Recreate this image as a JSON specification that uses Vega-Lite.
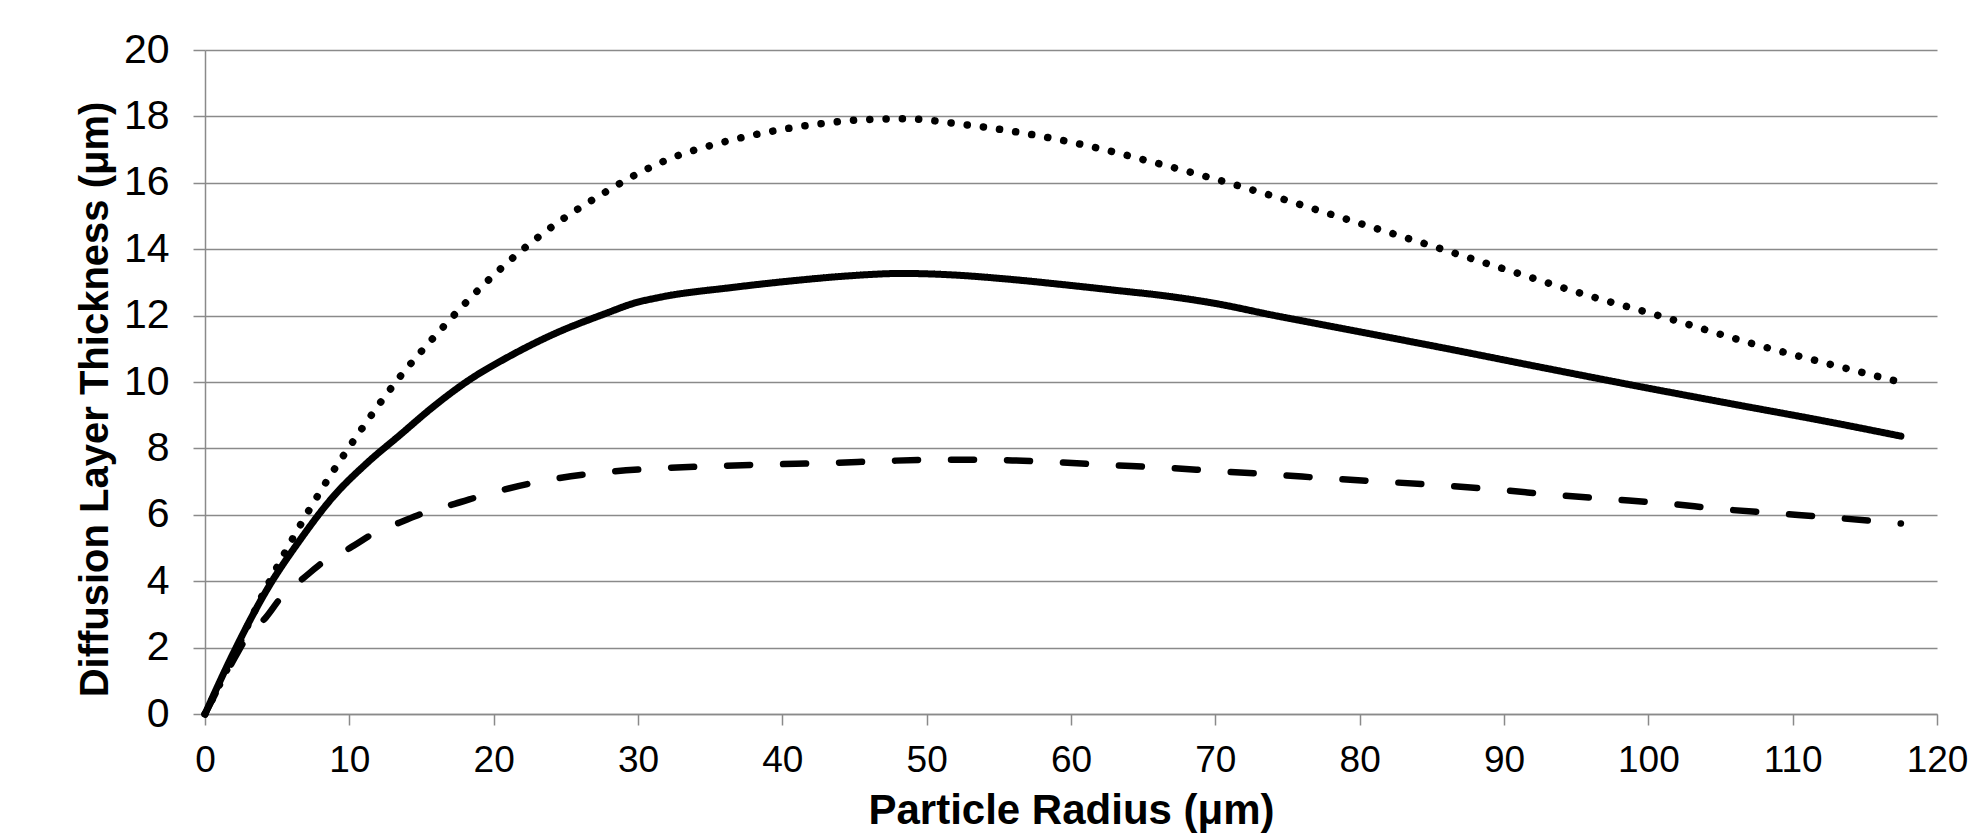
{
  "$schema": "https://vega.github.io/schema/vega-lite/v6.json",
  "width": 1732,
  "height": 664,
  "autosize": {"type": "none"},
  "padding": {"left": 205, "top": 50, "right": 45, "bottom": 121},
  "background": "white",
  "config": {
    "view": {"stroke": null},
    "font": "Liberation Sans"
  },
  "data": {
    "values": [
      {"series": "dotted", "r": 0, "t": 0},
      {"series": "dotted", "r": 1.73, "t": 1.53},
      {"series": "dotted", "r": 3.81, "t": 3.43},
      {"series": "dotted", "r": 5.89, "t": 5.14},
      {"series": "dotted", "r": 8.2, "t": 6.85},
      {"series": "dotted", "r": 10.67, "t": 8.47},
      {"series": "dotted", "r": 13.33, "t": 10.06},
      {"series": "dotted", "r": 16.28, "t": 11.55},
      {"series": "dotted", "r": 19.4, "t": 12.97},
      {"series": "dotted", "r": 21.9, "t": 13.95},
      {"series": "dotted", "r": 24.6, "t": 14.85},
      {"series": "dotted", "r": 27.4, "t": 15.63},
      {"series": "dotted", "r": 30.0, "t": 16.28},
      {"series": "dotted", "r": 32.4, "t": 16.76},
      {"series": "dotted", "r": 35.6, "t": 17.19},
      {"series": "dotted", "r": 38.9, "t": 17.52},
      {"series": "dotted", "r": 42.3, "t": 17.76},
      {"series": "dotted", "r": 45.6, "t": 17.9},
      {"series": "dotted", "r": 48.5, "t": 17.93},
      {"series": "dotted", "r": 52.3, "t": 17.77},
      {"series": "dotted", "r": 56.8, "t": 17.49},
      {"series": "dotted", "r": 61.3, "t": 17.1},
      {"series": "dotted", "r": 65.6, "t": 16.63},
      {"series": "dotted", "r": 70.0, "t": 16.11},
      {"series": "dotted", "r": 74.3, "t": 15.56},
      {"series": "dotted", "r": 78.6, "t": 14.97},
      {"series": "dotted", "r": 85.0, "t": 14.1},
      {"series": "dotted", "r": 90.4, "t": 13.35},
      {"series": "dotted", "r": 95.8, "t": 12.61},
      {"series": "dotted", "r": 101.2, "t": 11.94},
      {"series": "dotted", "r": 106.6, "t": 11.23},
      {"series": "dotted", "r": 112.1, "t": 10.59},
      {"series": "dotted", "r": 117.5, "t": 9.99},
      {"series": "solid", "r": 0, "t": 0},
      {"series": "solid", "r": 1.96, "t": 1.83},
      {"series": "solid", "r": 4.27, "t": 3.73},
      {"series": "solid", "r": 6.58, "t": 5.24},
      {"series": "solid", "r": 8.89, "t": 6.55},
      {"series": "solid", "r": 11.2, "t": 7.55},
      {"series": "solid", "r": 13.5, "t": 8.4},
      {"series": "solid", "r": 15.8, "t": 9.25},
      {"series": "solid", "r": 18.2, "t": 10.03},
      {"series": "solid", "r": 21.2, "t": 10.8},
      {"series": "solid", "r": 24.2, "t": 11.45},
      {"series": "solid", "r": 27.8, "t": 12.07},
      {"series": "solid", "r": 29.7, "t": 12.37},
      {"series": "solid", "r": 31.5, "t": 12.55},
      {"series": "solid", "r": 36.6, "t": 12.85},
      {"series": "solid", "r": 41.2, "t": 13.07},
      {"series": "solid", "r": 44.7, "t": 13.2},
      {"series": "solid", "r": 48.3, "t": 13.27},
      {"series": "solid", "r": 52.0, "t": 13.22},
      {"series": "solid", "r": 55.6, "t": 13.1},
      {"series": "solid", "r": 59.3, "t": 12.94},
      {"series": "solid", "r": 62.9, "t": 12.77},
      {"series": "solid", "r": 66.6, "t": 12.59},
      {"series": "solid", "r": 70.2, "t": 12.35},
      {"series": "solid", "r": 73.9, "t": 12.02},
      {"series": "solid", "r": 77.5, "t": 11.72},
      {"series": "solid", "r": 79.3, "t": 11.57},
      {"series": "solid", "r": 86.0, "t": 11.01},
      {"series": "solid", "r": 92.6, "t": 10.44},
      {"series": "solid", "r": 99.2, "t": 9.88},
      {"series": "solid", "r": 105.8, "t": 9.34},
      {"series": "solid", "r": 112.5, "t": 8.8},
      {"series": "solid", "r": 117.5, "t": 8.37},
      {"series": "dashed", "r": 0, "t": 0},
      {"series": "dashed", "r": 1.73, "t": 1.43},
      {"series": "dashed", "r": 3.12, "t": 2.45},
      {"series": "dashed", "r": 4.2, "t": 2.9},
      {"series": "dashed", "r": 5.43, "t": 3.6},
      {"series": "dashed", "r": 6.81, "t": 4.09},
      {"series": "dashed", "r": 8.4, "t": 4.64},
      {"series": "dashed", "r": 10.0, "t": 4.99},
      {"series": "dashed", "r": 11.9, "t": 5.49},
      {"series": "dashed", "r": 13.5, "t": 5.77},
      {"series": "dashed", "r": 15.4, "t": 6.09},
      {"series": "dashed", "r": 17.3, "t": 6.33},
      {"series": "dashed", "r": 20.0, "t": 6.68},
      {"series": "dashed", "r": 23.8, "t": 7.05},
      {"series": "dashed", "r": 27.6, "t": 7.28},
      {"series": "dashed", "r": 31.5, "t": 7.4},
      {"series": "dashed", "r": 35.5, "t": 7.47},
      {"series": "dashed", "r": 39.3, "t": 7.52},
      {"series": "dashed", "r": 43.2, "t": 7.56},
      {"series": "dashed", "r": 47.0, "t": 7.62},
      {"series": "dashed", "r": 50.9, "t": 7.66},
      {"series": "dashed", "r": 54.8, "t": 7.65},
      {"series": "dashed", "r": 58.7, "t": 7.59},
      {"series": "dashed", "r": 62.6, "t": 7.5},
      {"series": "dashed", "r": 66.4, "t": 7.42},
      {"series": "dashed", "r": 70.3, "t": 7.31},
      {"series": "dashed", "r": 74.1, "t": 7.21},
      {"series": "dashed", "r": 78.0, "t": 7.09},
      {"series": "dashed", "r": 81.9, "t": 6.99},
      {"series": "dashed", "r": 85.8, "t": 6.88},
      {"series": "dashed", "r": 89.7, "t": 6.75},
      {"series": "dashed", "r": 93.5, "t": 6.6},
      {"series": "dashed", "r": 97.4, "t": 6.47},
      {"series": "dashed", "r": 101.3, "t": 6.34},
      {"series": "dashed", "r": 105.1, "t": 6.17},
      {"series": "dashed", "r": 109.0, "t": 6.04},
      {"series": "dashed", "r": 112.9, "t": 5.91},
      {"series": "dashed", "r": 117.5, "t": 5.74}
    ]
  },
  "mark": {"type": "line", "interpolate": "monotone", "strokeCap": "round", "strokeJoin": "round", "color": "black"},
  "encoding": {
    "x": {
      "field": "r", "type": "quantitative",
      "scale": {"domain": [0, 120], "nice": false, "zero": false},
      "axis": {
        "title": "Particle Radius (μm)",
        "values": [0, 10, 20, 30, 40, 50, 60, 70, 80, 90, 100, 110, 120],
        "grid": false,
        "domainColor": "#8a8a8a", "domainWidth": 1.5,
        "tickColor": "#8a8a8a", "tickWidth": 1.5, "tickSize": 11,
        "labelFont": "Liberation Sans", "labelFontSize": 37, "labelColor": "black", "labelPadding": 17,
        "labelFlush": false, "labelOverlap": false,
        "titleFont": "Liberation Sans", "titleFontSize": 42, "titleFontWeight": "bold", "titleColor": "black",
        "titleBaseline": "alphabetic", "titleY": 109, "titleX": 866
      }
    },
    "y": {
      "field": "t", "type": "quantitative",
      "scale": {"domain": [0, 20], "nice": false},
      "axis": {
        "title": "Diffusion Layer Thickness (μm)",
        "values": [0, 2, 4, 6, 8, 10, 12, 14, 16, 18, 20],
        "grid": true, "gridColor": "#8a8a8a", "gridWidth": 1.5,
        "domainColor": "#8a8a8a", "domainWidth": 1.5,
        "tickColor": "#8a8a8a", "tickWidth": 1.5, "tickSize": 12,
        "labelFont": "Liberation Sans", "labelFontSize": 41, "labelColor": "black", "labelPadding": 24,
        "labelFlush": false, "labelOverlap": false,
        "titleFont": "Liberation Sans", "titleFontSize": 40, "titleFontWeight": "bold", "titleColor": "black",
        "titleAngle": 270, "titleBaseline": "alphabetic", "titleAlign": "center",
        "titleX": -98, "titleY": 349
      }
    },
    "detail": {"field": "series"},
    "strokeDash": {
      "field": "series", "type": "nominal",
      "scale": {"domain": ["dotted", "solid", "dashed"], "range": [[0.1, 16.2], [1, 0], [23, 33]]},
      "legend": null
    },
    "strokeWidth": {
      "field": "series", "type": "nominal",
      "scale": {"domain": ["dotted", "solid", "dashed"], "range": [7.5, 6.5, 6.5]},
      "legend": null
    }
  }
}
